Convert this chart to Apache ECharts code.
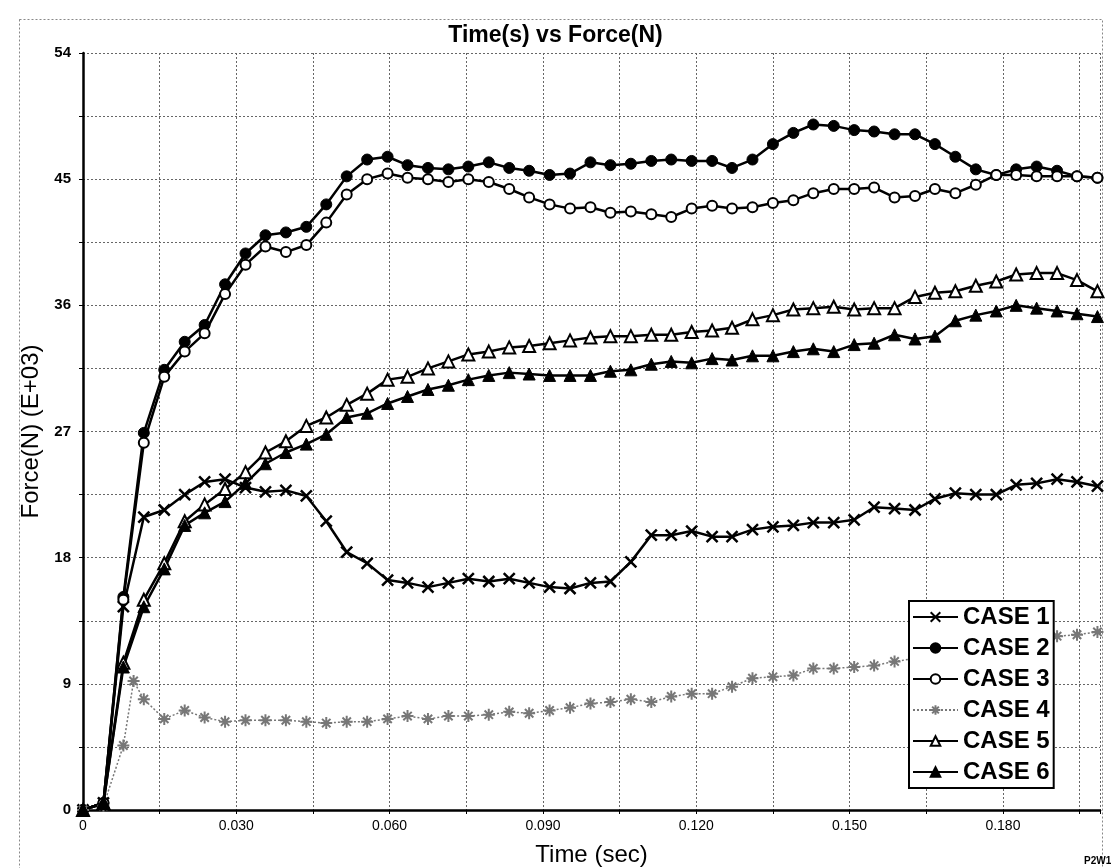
<!DOCTYPE html>
<html>
<head>
<meta charset="utf-8">
<title>Time(s) vs Force(N)</title>
<script src="https://cdn.jsdelivr.net/npm/echarts@6/dist/echarts.min.js"></script>
<style>
  html, body { margin: 0; padding: 0; background: #fff; }
  #main { width: 1111px; height: 868px; }
</style>
</head>
<body>
<div id="main"></div>
<script>
// sample times (s)
var TIME = [0, 0.0040, 0.0079, 0.0119, 0.0159, 0.0199, 0.0238, 0.0278, 0.0318, 0.0357,
  0.0397, 0.0437, 0.0476, 0.0516, 0.0556, 0.0596, 0.0635, 0.0675, 0.0715, 0.0754,
  0.0794, 0.0834, 0.0873, 0.0913, 0.0953, 0.0993, 0.1032, 0.1072, 0.1112, 0.1151,
  0.1191, 0.1231, 0.1270, 0.1310, 0.1350, 0.1390, 0.1429, 0.1469, 0.1509, 0.1548,
  0.1588, 0.1628, 0.1667, 0.1707, 0.1747, 0.1787, 0.1826, 0.1866, 0.1906, 0.1945,
  0.1985];

// case 4 has one extra sample at its early peak
var TIME4 = TIME.slice(0, 3).concat([0.0099]).concat(TIME.slice(3));

var NAMES = ['CASE 1', 'CASE 2', 'CASE 3', 'CASE 4', 'CASE 5', 'CASE 6'];

// force (E+03 N)
var CASE1 = [0, 0.5, 14.5, 20.9, 21.4, 22.5, 23.4, 23.6, 23.0, 22.7,
  22.8, 22.4, 20.6, 18.4, 17.6, 16.4, 16.2, 15.9, 16.2, 16.5,
  16.3, 16.5, 16.2, 15.9, 15.8, 16.2, 16.3, 17.7, 19.6, 19.6,
  19.9, 19.5, 19.5, 20.0, 20.2, 20.3, 20.5, 20.5, 20.7, 21.6,
  21.5, 21.4, 22.2, 22.6, 22.5, 22.5, 23.2, 23.3, 23.6, 23.4,
  23.1];
var CASE2 = [0, 0.5, 15.2, 26.9, 31.4, 33.4, 34.6, 37.5, 39.7, 41.0,
  41.2, 41.6, 43.2, 45.2, 46.4, 46.6, 46.0, 45.8, 45.7, 45.9,
  46.2, 45.8, 45.6, 45.3, 45.4, 46.2, 46.0, 46.1, 46.3, 46.4,
  46.3, 46.3, 45.8, 46.4, 47.5, 48.3, 48.9, 48.8, 48.5, 48.4,
  48.2, 48.2, 47.5, 46.6, 45.7, 45.3, 45.7, 45.9, 45.6, 45.2,
  45.1];
var CASE3 = [0, 0.5, 15.0, 26.2, 30.9, 32.7, 34.0, 36.8, 38.9, 40.2,
  39.8, 40.3, 41.9, 43.9, 45.0, 45.4, 45.1, 45.0, 44.8, 45.0,
  44.8, 44.3, 43.7, 43.2, 42.9, 43.0, 42.6, 42.7, 42.5, 42.3,
  42.9, 43.1, 42.9, 43.0, 43.3, 43.5, 44.0, 44.3, 44.3, 44.4,
  43.7, 43.8, 44.3, 44.0, 44.6, 45.3, 45.3, 45.2, 45.2, 45.2,
  45.1];
var CASE4 = [0, 0.3, 4.6, 9.2, 7.9, 6.5, 7.1, 6.6, 6.3, 6.4,
  6.4, 6.4, 6.3, 6.2, 6.3, 6.3, 6.5, 6.7, 6.5, 6.7,
  6.7, 6.8, 7.0, 6.9, 7.1, 7.3, 7.6, 7.7, 7.9, 7.7,
  8.1, 8.3, 8.3, 8.8, 9.4, 9.5, 9.6, 10.1, 10.1, 10.2,
  10.3, 10.6, 10.8, 11.0, 11.3, 11.5, 11.7, 11.9, 12.1, 12.4,
  12.5, 12.7];
var CASE5 = [0, 0.5, 10.5, 15.0, 17.6, 20.6, 21.8, 22.9, 24.1, 25.5,
  26.3, 27.4, 28.0, 28.9, 29.7, 30.7, 30.9, 31.5, 32.0, 32.5,
  32.7, 33.0, 33.1, 33.3, 33.5, 33.7, 33.8, 33.8, 33.9, 33.9,
  34.1, 34.2, 34.4, 35.0, 35.3, 35.7, 35.8, 35.9, 35.7, 35.8,
  35.8, 36.6, 36.9, 37.0, 37.4, 37.7, 38.2, 38.3, 38.3, 37.8,
  37.0];
var CASE6 = [0, 0.5, 10.2, 14.5, 17.2, 20.3, 21.2, 22.0, 23.3, 24.7,
  25.5, 26.1, 26.8, 28.0, 28.3, 29.0, 29.5, 30.0, 30.3, 30.7,
  31.0, 31.2, 31.1, 31.0, 31.0, 31.0, 31.3, 31.4, 31.8, 32.0,
  31.9, 32.2, 32.1, 32.4, 32.4, 32.7, 32.9, 32.7, 33.2, 33.3,
  33.9, 33.6, 33.8, 34.9, 35.3, 35.6, 36.0, 35.8, 35.6, 35.4,
  35.2];

var FONT = '"Liberation Sans", Arial, sans-serif';
var CROSS = 'path://M0,0L10,10M10,0L0,10';
var STAR = 'path://M5,0L5,10M0,5L10,5M1.5,1.5L8.5,8.5M8.5,1.5L1.5,8.5';

function pairs(t, v) {
  return t.map(function (x, i) { return [x, v[i]]; });
}

function isMultiple(v, step) {
  var q = v / step;
  return Math.abs(q - Math.round(q)) < 1e-6;
}

function lineSeries(name, data, symbol, size, itemStyle, lineStyle) {
  return {
    name: name,
    type: 'line',
    data: data,
    symbol: symbol,
    symbolSize: size,
    showAllSymbol: true,
    itemStyle: itemStyle,
    lineStyle: lineStyle,
    emphasis: { disabled: true }
  };
}

var chart = echarts.init(document.getElementById('main'));

var solid = { color: '#000', width: 2.5 };

var option = {
  animation: false,
  backgroundColor: '#fff',
  title: {
    text: 'Time(s) vs Force(N)',
    left: 'center',
    top: 19,
    textStyle: { fontFamily: FONT, fontSize: 23, fontWeight: 'bold', color: '#000' }
  },
  grid: { left: 83, right: 11, top: 53, bottom: 58, containLabel: false, outerBoundsMode: 'none' },
  legend: {
    orient: 'vertical',
    left: 909,
    top: 601,
    padding: [3, 4, 3, 3],
    itemWidth: 45,
    itemHeight: 12,
    itemGap: 5,
    backgroundColor: '#fff',
    borderColor: '#000',
    borderWidth: 2,
    textStyle: { fontFamily: FONT, fontSize: 24, fontWeight: 'bold', color: '#000', lineHeight: 26 },
    data: NAMES
  },
  xAxis: {
    type: 'value',
    min: 0,
    max: 0.199,
    interval: 0.015,
    name: 'Time (sec)',
    nameLocation: 'middle',
    nameGap: 33,
    nameTextStyle: { fontFamily: FONT, fontSize: 24, color: '#000' },
    axisLine: { show: true, lineStyle: { color: '#000', width: 2.5 } },
    axisTick: { show: true, length: 4, lineStyle: { color: '#000' } },
    axisLabel: {
      fontFamily: FONT, fontSize: 14, color: '#000', margin: 9,
      formatter: function (v) {
        if (!isMultiple(v, 0.03)) return '';
        return v === 0 ? '0' : v.toFixed(3);
      }
    },
    splitLine: { show: true, lineStyle: { color: '#666', width: 1, type: [2, 2] } }
  },
  yAxis: {
    type: 'value',
    min: 0,
    max: 54,
    interval: 4.5,
    name: 'Force(N) (E+03)',
    nameLocation: 'middle',
    nameGap: 33,
    nameTextStyle: { fontFamily: FONT, fontSize: 24, color: '#000' },
    axisLine: { show: true, lineStyle: { color: '#000', width: 2.5 } },
    axisTick: { show: true, length: 4, lineStyle: { color: '#000' } },
    axisLabel: {
      fontFamily: FONT, fontSize: 15, fontWeight: 'bold', color: '#000', margin: 12,
      formatter: function (v) { return isMultiple(v, 9) ? String(Math.round(v)) : ''; }
    },
    splitLine: { show: true, lineStyle: { color: '#666', width: 1, type: [2, 2] } }
  },
  graphic: [
    {
      type: 'rect',
      left: 17, top: 17,
      shape: { width: 1083, height: 870 },
      style: { fill: 'none', stroke: '#888', lineWidth: 1, lineDash: [2, 2] },
      silent: true
    },
    {
      type: 'text',
      left: 1084, top: 856,
      style: { text: 'P2W1', fill: '#000', font: 'bold 10px ' + FONT },
      silent: true
    }
  ],
  series: [
    lineSeries(NAMES[0], pairs(TIME, CASE1), CROSS, 11,
      { color: '#000', borderColor: '#000', borderWidth: 2.5 }, solid),
    lineSeries(NAMES[1], pairs(TIME, CASE2), 'circle', 11,
      { color: '#000', borderColor: '#000', borderWidth: 1 }, solid),
    lineSeries(NAMES[2], pairs(TIME, CASE3), 'emptyCircle', 10,
      { color: '#000', borderColor: '#000', borderWidth: 2 }, solid),
    lineSeries(NAMES[3], pairs(TIME4, CASE4), STAR, 12,
      { color: '#777', borderColor: '#777', borderWidth: 2 },
      { color: '#777', width: 1.5, type: [2, 2] }),
    lineSeries(NAMES[4], pairs(TIME, CASE5), 'emptyTriangle', 12,
      { color: '#000', borderColor: '#000', borderWidth: 2 }, solid),
    lineSeries(NAMES[5], pairs(TIME, CASE6), 'triangle', 12,
      { color: '#000', borderColor: '#000', borderWidth: 1 }, solid)
  ]
};

chart.setOption(option);
</script>
</body>
</html>
